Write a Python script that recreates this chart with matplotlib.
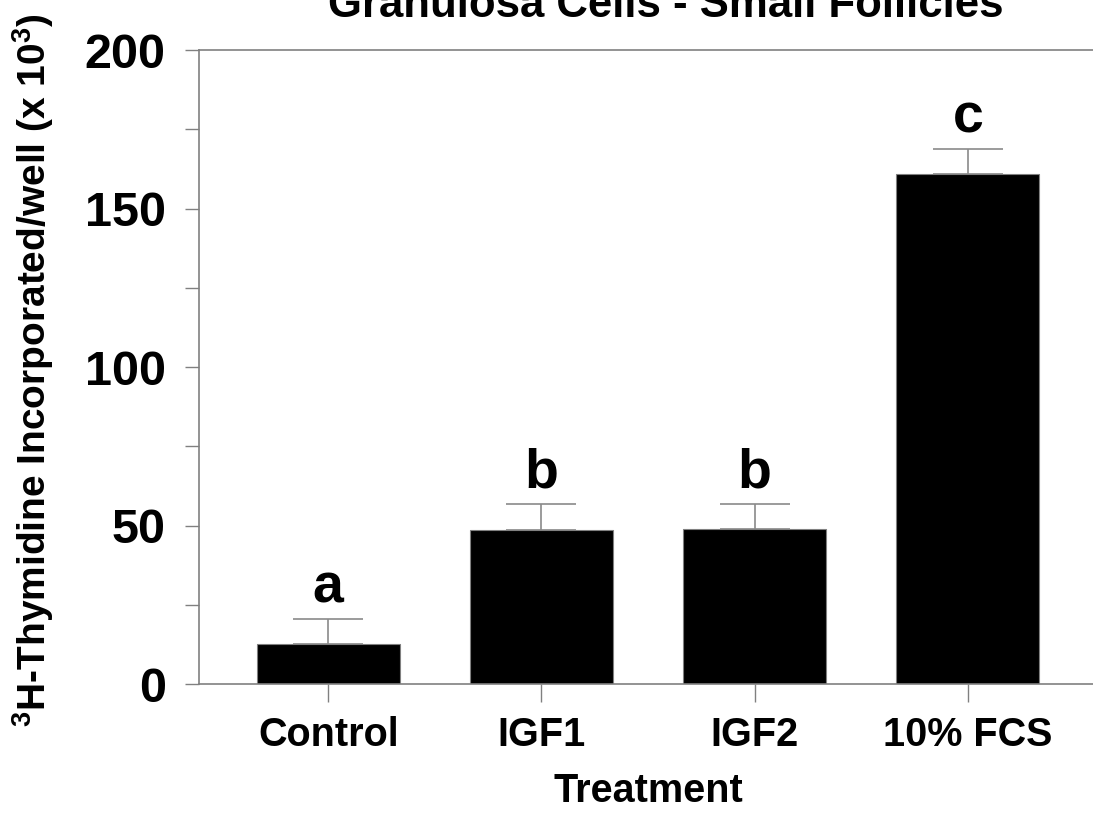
import matplotlib
matplotlib.use("Agg")
import matplotlib.pyplot as plt
from matplotlib.ticker import MultipleLocator

categories = ["Control", "IGF1", "IGF2", "10% FCS"]
means = [12.6, 48.6, 48.9, 160.9]
errors = [7.9, 8.2, 7.9, 7.9]
letters = ["a", "b", "b", "c"]

plt.rcParams['font.family'] = ['Liberation Sans', 'DejaVu Sans']
plt.rcParams['font.weight'] = 'bold'
plt.rcParams['mathtext.fontset'] = 'custom'
plt.rcParams['mathtext.rm'] = 'Liberation Sans'
plt.rcParams['mathtext.bf'] = 'Liberation Sans:bold'

W, H = 1093, 815
fig = plt.figure(figsize=(W / 100, H / 100), dpi=100)
ax = fig.add_axes([199 / W, 131 / H, 898 / W, 634 / H])

x = list(range(len(categories)))
ax.bar(x, means, width=0.67, color='black', edgecolor='#808080', linewidth=0.8, zorder=2)
ax.errorbar(x, means, yerr=[[0] * len(errors), errors], fmt='none', ecolor='#8a8a8a',
            elinewidth=1.2, capsize=25.5, capthick=1.2, zorder=1)

for xi, m, e, l in zip(x, means, errors, letters):
    ax.text(xi, m + e + 5.2, l, ha='center', va='baseline', fontsize=40, fontweight='bold')

ax.set_xlim(-0.606, 3.606)
ax.set_ylim(0, 200)
ax.set_xticks(x)
ax.set_xticklabels(categories, fontsize=28.5, fontweight='bold')
ax.yaxis.set_major_locator(MultipleLocator(50))
ax.yaxis.set_minor_locator(MultipleLocator(25))
ax.tick_params(axis='y', which='both', direction='out', length=10, width=1, color='#808080',
               labelsize=35, pad=14)
ax.tick_params(axis='x', which='both', direction='out', length=13, width=1, color='#808080', pad=10)
for lbl in ax.get_yticklabels():
    lbl.set_fontweight('bold')

for s in ['left', 'bottom', 'top']:
    ax.spines[s].set_color('#808080')
    ax.spines[s].set_linewidth(1.2)
ax.spines['right'].set_visible(False)

fig.text(648 / W, 1 - 791 / H, "Treatment", ha='center', va='center', fontsize=28.5, fontweight='bold')
fig.text(33 / W, 1 - 370 / H,
         r"$^{\mathrm{3}}$H-Thymidine Incorporated/well (x 10$^{\mathrm{3}}$)",
         rotation=90, ha='center', va='center', fontsize=28, fontweight='bold')

fig.text(666 / W, 1 - 17 / H, "Granulosa Cells - Small Follicles", ha='center', va='baseline',
         fontsize=31.5, fontweight='bold')

fig.savefig("out.png", dpi=100)
